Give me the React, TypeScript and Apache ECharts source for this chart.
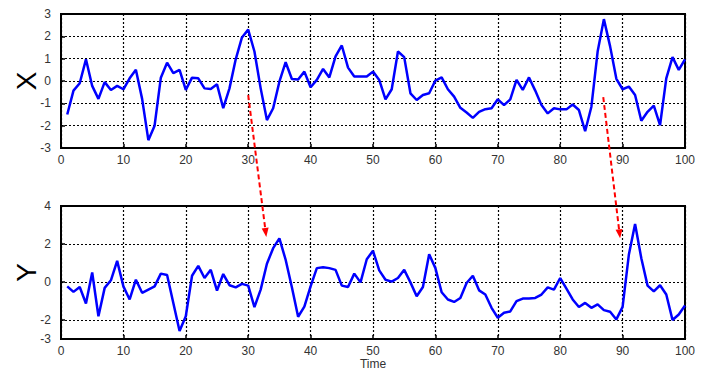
import React, { useEffect, useRef } from 'react';
import * as echarts from 'echarts';

const xValues = [
  -1.5, -0.43, -0.1, 0.97, -0.22, -0.8, -0.05, -0.4, -0.22, -0.37,
  0.12, 0.5, -0.8, -2.65, -2.0, 0.15, 0.82, 0.35, 0.5, -0.4,
  0.15, 0.12, -0.33, -0.36, -0.15, -1.22, -0.33, 0.97, 1.95, 2.3,
  1.32, -0.33, -1.75, -1.22, -0.03, 0.84, 0.09, 0.07, 0.42, -0.28,
  0.05, 0.54, 0.16, 1.1, 1.59, 0.6, 0.2, 0.2, 0.2, 0.42,
  0.05, -0.82, -0.37, 1.32, 1.07, -0.55, -0.85, -0.63, -0.55, 0.02,
  0.16, -0.37, -0.7, -1.2, -1.41, -1.65, -1.38, -1.26, -1.22, -0.82,
  -1.08, -0.82, 0.05, -0.4, 0.16, -0.43, -1.08, -1.45, -1.22, -1.27,
  -1.27, -1.05, -1.3, -2.25, -1.15, 1.32, 2.77, 1.55, 0.1, -0.37,
  -0.25, -0.63, -1.78, -1.38, -1.1, -1.98, 0.12, 1.07, 0.5, 0.97,
];

const yValues = [
  -0.23, -0.52, -0.26, -1.13, 0.5, -1.8, -0.31, 0.09, 1.11, -0.23,
  -0.92, 0.12, -0.57, -0.4, -0.23, 0.44, 0.37, -1.1, -2.58, -1.8,
  0.33, 0.85, 0.21, 0.64, -0.45, 0.42, -0.17, -0.28, -0.1, -0.19,
  -1.32, -0.4, 0.96, 1.78, 2.3, 1.17, -0.28, -1.83, -1.3, -0.23,
  0.73, 0.78, 0.73, 0.64, -0.19, -0.26, 0.44, -0.02, 1.2, 1.64,
  0.61, 0.12, 0.02, 0.21, 0.64, -0.02, -0.75, -0.26, 1.46, 0.73,
  -0.54, -0.92, -1.05, -0.84, -0.05, 0.33, -0.44, -0.66, -1.36, -1.88,
  -1.62, -1.55, -1.01, -0.87, -0.87, -0.84, -0.66, -0.28, -0.4, 0.21,
  -0.35, -0.92, -1.32, -1.1, -1.36, -1.18, -1.48, -1.57, -1.97, -1.31,
  1.43, 3.05, 1.25, -0.19, -0.49, -0.17, -0.66, -2.0, -1.71, -1.24,
];

const yTicks = [-3, -2, 0, 2, 4];

// arrows: start point in X panel (time, value), end point in Y panel (time, value)
const arrowFrom = [[30.0, -0.63], [86.9, -0.72]];
const arrowTo = [[32.9, 2.37], [89.6, 2.3]];

const toPairs = (vals: number[]) => vals.map((v, i) => [i + 1, v]);

export default function App() {
  const ref = useRef<HTMLDivElement>(null);
  useEffect(() => {
    document.body.style.margin = '0';
    const chart = echarts.init(ref.current!, null, { renderer: 'svg' });
    const font = 'Liberation Sans, Arial, sans-serif';
    const labelStyle = { color: '#333', fontSize: 12, fontFamily: font };
    const splitLine = { show: true, lineStyle: { color: '#000', type: [2, 2], width: 1.2 } };
    const axisLine = { show: true, onZero: false, lineStyle: { color: '#000', width: 2 } };
    const axisTick = { show: true, inside: true, length: 4, lineStyle: { color: '#000', width: 1.5 } };
    const xAxisCommon = (gi: number) => ({
      type: 'value', gridIndex: gi, min: 0, max: 100, interval: 10,
      axisLine, axisTick, splitLine,
      axisLabel: { ...labelStyle, margin: 6 },
    });
    const option: any = {
      animation: false,
      backgroundColor: '#fff',
      grid: [
        { left: 61, right: 25, top: 14, height: 134, show: true, borderColor: '#000', borderWidth: 2, containLabel: false, outerBoundsMode: 'none' },
        { left: 61, right: 25, top: 206, height: 133, show: true, borderColor: '#000', borderWidth: 2, containLabel: false, outerBoundsMode: 'none' },
      ],
      xAxis: [
        xAxisCommon(0),
        {
          ...xAxisCommon(1),
          name: 'Time', nameLocation: 'middle', nameGap: 19, nameMoveOverlap: false,
          nameTextStyle: { color: '#333', fontSize: 12, fontFamily: font },
        },
      ],
      yAxis: [
        {
          type: 'value', gridIndex: 0, min: -3, max: 3, interval: 1,
          axisLine, axisTick, splitLine,
          axisLabel: { ...labelStyle, margin: 10 },
          name: 'X', nameLocation: 'middle', nameGap: 21, nameRotate: 90, nameMoveOverlap: false,
          nameTextStyle: { color: '#000', fontSize: 28, fontFamily: font },
        },
        {
          type: 'value', gridIndex: 1, min: -3, max: 4,
          axisLine,
          axisTick: { ...axisTick, customValues: yTicks },
          splitLine,
          axisLabel: { ...labelStyle, margin: 10, customValues: yTicks },
          name: 'Y', nameLocation: 'middle', nameGap: 21, nameRotate: 90, nameMoveOverlap: false,
          nameTextStyle: { color: '#000', fontSize: 28, fontFamily: font },
        },
      ],
      series: [
        {
          type: 'line', xAxisIndex: 0, yAxisIndex: 0, data: toPairs(xValues),
          showSymbol: false, lineStyle: { color: '#0000ff', width: 2.5 }, itemStyle: { color: '#0000ff' },
        },
        {
          type: 'line', xAxisIndex: 1, yAxisIndex: 1, data: toPairs(yValues),
          showSymbol: false, lineStyle: { color: '#0000ff', width: 2.5 }, itemStyle: { color: '#0000ff' },
        },
      ],
    };
    chart.setOption(option);

    const graphics: any[] = [];
    arrowFrom.forEach((from, i) => {
      const p0 = chart.convertToPixel({ gridIndex: 0 } as any, from) as number[];
      const p1 = chart.convertToPixel({ gridIndex: 1 } as any, arrowTo[i]) as number[];
      const dx = p1[0] - p0[0];
      const dy = p1[1] - p0[1];
      const len = Math.sqrt(dx * dx + dy * dy);
      const ux = dx / len, uy = dy / len;
      const L = 9, W = 7;
      const bx = p1[0] - ux * L, by = p1[1] - uy * L;
      const nx = -uy, ny = ux;
      graphics.push({
        type: 'line', z: 100,
        shape: { x1: p0[0], y1: p0[1], x2: bx, y2: by },
        style: { stroke: '#ff0000', lineWidth: 2, lineDash: [5, 3] },
      });
      graphics.push({
        type: 'polygon', z: 100,
        shape: { points: [[p1[0], p1[1]], [bx + nx * W / 2, by + ny * W / 2], [bx - nx * W / 2, by - ny * W / 2]] },
        style: { fill: '#ff0000' },
      });
    });
    chart.setOption({ graphic: graphics });

    return () => chart.dispose();
  }, []);
  return <div ref={ref} style={{ width: 710, height: 377 }} />;
}
